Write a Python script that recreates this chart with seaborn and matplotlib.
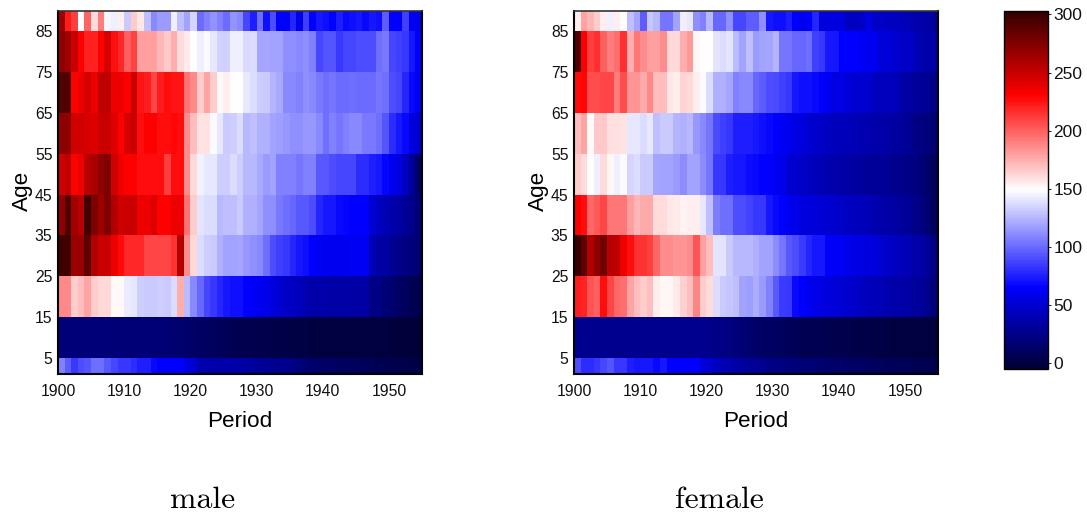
# heatmaps of mortality by age and period, male and female side by side
import numpy as np
import pandas as pd
import matplotlib
matplotlib.use('Agg')
import matplotlib.pyplot as plt
from matplotlib.colors import LinearSegmentedColormap
import seaborn as sns

# age bands, oldest first, with how many single years each band covers
age_spans = [5, 10, 10, 10, 10, 10, 10, 10, 10, 4]
years = list(range(1900, 1955))
year_ticks = [1900, 1910, 1920, 1930, 1940, 1950]
age_ticks = [5, 15, 25, 35, 45, 55, 65, 75, 85]
cbar_ticks = [0, 50, 100, 150, 200, 250, 300]

male_85 = [264,222,211,150,199,160,190,146,143,155, 131,165,157,128,110,116,116,143,128,118,
           135,100,107,113,107,100,113,110,88,75, 102,70,91,65,65,78,58,86,65,73,
           70,65,75,68,70,73,68,73,70,96, 65,65,86,60,60]
male_75 = [270,264,250,231,220,220,231,245,225,218, 200,210,180,180,180,172,167,175,160,156,
           150,144,147,141,134,134,144,144,136,138, 120,119,118,118,112,112,110,112,107,88,
           93,93,83,88,88,91,91,91,102,105, 88,86,83,73,65]
male_65 = [292,292,231,238,245,236,253,253,236,236, 231,250,224,222,208,222,226,224,224,194,
           187,165,178,165,151,155,149,149,141,138, 133,132,124,121,110,110,107,112,110,105,
           102,104,100,100,102,100,100,100,104,101, 91,88,77,68,62]
male_55 = [270,270,247,247,245,242,250,250,242,231, 245,250,227,231,231,226,226,229,226,186,
           170,158,158,147,141,131,133,137,126,128, 123,123,118,117,115,112,112,115,115,110,
           102,107,104,107,110,110,105,105,102,93, 80,72,68,54,50]
male_45 = [247,253,231,238,256,261,270,276,247,236, 231,231,227,227,227,226,211,227,227,186,
           162,145,141,141,133,133,138,133,126,126, 121,116,118,107,107,107,104,107,107,94,
           94,91,88,88,88,80,80,75,73,67, 61,56,45,30,14]
male_35 = [270,292,264,256,298,276,264,276,258,247, 250,250,238,238,242,231,231,238,236,194,
           165,140,137,137,126,128,128,131,123,123, 120,112,112,105,102,99,94,94,91,78,
           73,73,68,66,65,65,65,50,45,40, 37,34,31,26,18]
male_25 = [298,298,266,266,287,258,250,250,236,228, 218,218,218,208,208,208,208,214,258,186,
           162,137,133,131,123,118,118,120,115,112, 110,102,91,86,83,78,73,70,65,62,
           60,60,60,60,62,62,62,40,34,34, 28,26,22,20,17]
male_15 = [187,187,165,170,178,165,162,162,151,151, 142,141,133,132,132,133,131,137,175,127,
           110,99,88,83,78,72,70,70,65,63, 60,58,55,50,46,45,42,38,37,36,
           36,35,35,35,34,34,34,25,23,18, 16,13,10,7,6]
male_5 = [20,20,20,20,20,20,20,20,19,19, 19,19,18,18,18,18,17,17,16,15,
          13,12,11,10,9,8,7,6,5,5, 4,4,3,3,3,2,2,2,1,1,
          1,1,0,0,0,0,0,-1,-1,-1, -1,-2,-2,-2,-3]
male_1 = [107,96,84,91,93,102,102,94,88,84, 84,80,75,75,68,65,65,65,65,54,
          50,38,38,37,37,36,36,35,34,32, 30,29,28,27,27,24,20,17,15,14,
          13,12,11,10,10,10,9,8,6,6, 5,4,4,3,3]

female_85 = [154,178,173,165,155,143,155,150,128,120, 96,130,126,104,104,118,143,141,112,107,
             126,99,99,112,88,88,96,96,112,73, 70,70,75,65,61,65,78,55,55,55,
             55,45,45,46,56,46,46,45,45,42, 40,38,36,35,30]
female_75 = [292,231,211,216,200,190,195,216,175,193, 186,180,180,186,162,162,175,182,152,150,
             150,140,137,140,127,118,128,116,118,120, 124,104,104,99,99,101,86,83,73,73,
             65,65,65,63,60,60,52,52,50,46, 46,42,38,36,34]
female_65 = [228,229,206,206,208,208,190,206,183,183, 176,187,170,170,157,155,163,162,155,147,
             137,123,123,120,107,110,110,99,96,91, 89,86,83,73,70,70,68,65,61,56,
             56,52,50,50,48,43,43,43,42,36, 34,32,30,28,25]
female_55 = [170,178,151,167,167,159,159,158,141,141, 137,141,128,132,132,124,123,126,115,110,
             104,89,86,83,75,75,75,73,70,68, 65,62,59,56,54,50,48,46,44,43,
             42,41,40,39,38,37,36,34,33,32, 28,25,22,20,17]
female_45 = [165,160,150,143,160,152,143,147,135,137, 131,131,120,118,118,116,111,118,118,111,
             104,83,83,75,73,73,69,68,65,64, 60,58,50,48,46,44,42,40,38,37,
             36,34,33,32,31,30,30,28,27,26, 24,22,18,14,10]
female_35 = [231,226,198,202,208,193,193,193,180,172, 176,176,161,161,157,156,153,155,155,141,
             128,106,101,101,91,91,87,83,83,73, 68,65,61,58,55,54,52,51,50,48,
             46,44,43,42,40,38,36,35,34,32, 30,26,22,16,10]
female_25 = [300,287,258,270,281,255,253,236,226,214, 214,211,198,186,186,183,183,186,204,180,
             170,140,140,131,125,125,125,123,118,118, 111,104,94,91,85,78,73,73,65,63,
             62,58,57,56,55,54,50,46,44,43, 40,37,35,31,22]
female_15 = [222,219,204,200,226,208,198,195,178,170, 165,170,155,152,152,156,164,170,188,165,
             160,137,132,130,128,118,117,122,116,107, 94,85,83,68,65,60,58,56,54,52,
             50,48,46,44,42,41,40,38,37,36, 34,32,30,26,20]
female_5 = [27,27,27,27,27,27,27,27,27,27, 27,27,27,27,27,27,27,27,27,27,
            26,25,24,22,20,18,16,14,13,12, 11,10,9,8,7,7,6,6,5,5,
            4,4,3,3,3,2,2,2,1,1, 0,0,-1,-1,-2]
female_1 = [91,80,80,84,88,93,83,83,75,73, 73,73,68,72,65,65,65,65,65,54,
            50,45,40,38,35,33,31,30,28,25, 23,22,21,20,19,18,17,16,15,14,
            14,13,12,12,11,10,10,9,9,8, 8,7,7,6,6]

male_rows = [male_85, male_75, male_65, male_55, male_45, male_35, male_25, male_15, male_5, male_1]
female_rows = [female_85, female_75, female_65, female_55, female_45, female_35, female_25, female_15, female_5, female_1]

W, H = 1087, 513
VMIN, VMAX = -5, 303


def frac(v):
    return (v - VMIN) / (VMAX - VMIN)


# white in the middle, pure blue and red not quite half way out
cmap = LinearSegmentedColormap.from_list('bwr_dark', [
    (0.0, (0, 0, 0.2)),
    (frac(65), (0, 0, 1)),
    (frac(149), (1, 1, 1)),
    (frac(231), (1, 0, 0)),
    (1.0, (0.2, 0, 0)),
])

plt.rcParams['font.family'] = ['Liberation Sans', 'DejaVu Sans']

fig = plt.figure(figsize=(W / 100, H / 100), dpi=100)


def box(x0, y0, x1, y1):
    return [x0 / W, 1 - y1 / H, (x1 - x0) / W, (y1 - y0) / H]


ax1 = fig.add_axes(box(58, 11, 422, 374))
ax2 = fig.add_axes(box(574, 11, 938, 374))
cax = fig.add_axes(box(1004, 11, 1048, 369))

for i, (ax, rows) in enumerate([(ax1, male_rows), (ax2, female_rows)]):
    # one row per year of age so the bands keep their real heights, youngest first
    table = pd.DataFrame(np.repeat(np.array(rows[::-1]), age_spans[::-1], axis=0), columns=years)
    sns.heatmap(table, ax=ax, cmap=cmap, vmin=VMIN, vmax=VMAX, cbar=(i == 0),
                cbar_ax=cax if i == 0 else None, xticklabels=False, yticklabels=False)
    ax.invert_yaxis()
    ax.set_xticks([y - years[0] for y in year_ticks])
    ax.set_xticklabels(year_ticks, rotation=0)
    ax.set_yticks([a - 1 for a in age_ticks])
    ax.set_yticklabels(age_ticks, rotation=0)
    ax.tick_params(length=0, labelsize=11.3, labelcolor='#111111')
    ax.tick_params(axis='x', pad=7)
    ax.tick_params(axis='y', pad=4)
    ax.set_xlabel('Period', fontsize=16.2, labelpad=9)
    ax.set_ylabel('Age', fontsize=16.2, labelpad=1, y=0.505)
    for side in ['left', 'bottom', 'right']:
        ax.spines[side].set_visible(True)
        ax.spines[side].set_linewidth(1.5)
        ax.spines[side].set_color('black')
    ax.spines['top'].set_visible(True)
    ax.spines['top'].set_linewidth(1.2)
    ax.spines['top'].set_color('#333333')

cb = ax1.collections[0].colorbar
cb.set_ticks(cbar_ticks)
cb.ax.tick_params(length=2, width=0.6, labelsize=12.5, pad=2, labelcolor='#111111')
cb.outline.set_visible(True)
cb.outline.set_linewidth(1.0)
cb.outline.set_edgecolor('black')

fig.text(203 / W, 1 - 500 / H, 'male', family='cmr10', fontsize=22.8, ha='center', va='center')
fig.text(719 / W, 1 - 500 / H, 'female', family='cmr10', fontsize=22.8, ha='center', va='center')

fig.savefig('out.png', dpi=100)
